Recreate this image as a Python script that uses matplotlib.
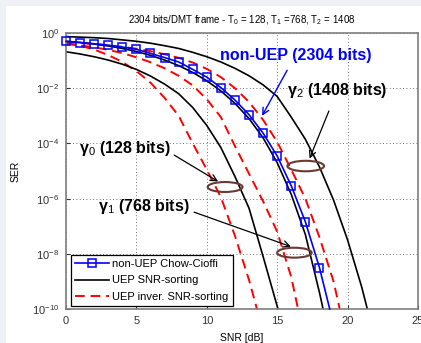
import numpy as np
import matplotlib
matplotlib.use('Agg')
import matplotlib.pyplot as plt
from matplotlib.patches import Ellipse, Rectangle

plt.rcParams['font.family'] = ['Liberation Sans', 'DejaVu Sans']
plt.rcParams['mathtext.fontset'] = 'custom'
plt.rcParams['mathtext.rm'] = 'Liberation Sans'
plt.rcParams['mathtext.it'] = 'Liberation Sans:italic'
plt.rcParams['mathtext.bf'] = 'Liberation Sans:bold'

# SNR [dB] and log10(SER)
snr_int = list(range(0, 19))

# non-UEP Chow-Cioffi (blue, squares)
snr_blue = snr_int + [18.73]
ser_blue = [-0.30, -0.35, -0.39, -0.44, -0.51, -0.59, -0.74, -0.89, -1.05, -1.32,
            -1.60, -1.98, -2.43, -2.96, -3.63, -4.46, -5.54, -6.84, -8.50, -10.0]

# UEP SNR-sorting (black): gamma0, gamma1, gamma2
snr_k0 = list(range(0, 16)) + [15.05]
ser_k0 = [-0.68, -0.76, -0.86, -0.98, -1.13, -1.32, -1.56, -1.85, -2.20, -2.70,
          -3.35, -4.15, -5.20, -6.35, -8.10, -9.90, -10.0]
snr_k1 = list(range(0, 19)) + [18.26]
ser_k1 = [-0.30, -0.34, -0.40, -0.47, -0.56, -0.67, -0.81, -0.98, -1.18, -1.43,
          -1.73, -2.10, -2.55, -3.10, -3.80, -4.70, -5.85, -7.30, -9.40, -10.0]
snr_k2 = list(range(0, 22)) + [21.4]
ser_k2 = [-0.13, -0.15, -0.17, -0.20, -0.25, -0.30, -0.37, -0.46, -0.56, -0.70,
          -0.86, -1.05, -1.28, -1.55, -1.88, -2.30, -3.05, -3.85, -4.85, -6.05,
          -7.50, -9.20, -10.0]

# UEP inver. SNR-sorting (red dashed)
snr_r0 = list(range(0, 14)) + [13.56]
ser_r0 = [-0.36, -0.46, -0.60, -0.80, -1.05, -1.38, -1.80, -2.35, -3.00, -4.00,
          -4.95, -5.95, -7.35, -8.95, -10.0]
snr_r1 = list(range(0, 17)) + [16.48]
ser_r1 = [-0.40, -0.45, -0.52, -0.61, -0.73, -0.88, -1.06, -1.28, -1.55, -1.90,
          -2.40, -3.05, -4.10, -5.10, -6.10, -7.20, -8.85, -10.0]
snr_r2 = list(range(0, 20)) + [19.44]
ser_r2 = [-0.33, -0.36, -0.40, -0.45, -0.50, -0.57, -0.66, -0.77, -0.90, -1.07,
          -1.30, -1.60, -2.00, -2.50, -3.15, -3.95, -4.95, -6.00, -7.40, -9.00, -10.0]

yticks = [1e0, 1e-2, 1e-4, 1e-6, 1e-8, 1e-10]
xticks = [0, 5, 10, 15, 20, 25]

fig = plt.figure(figsize=(4.21, 3.43), dpi=100, facecolor='#eff1f7')
fig.patches.append(Rectangle((6 / 421, 0), 1, 1 - 6 / 343, transform=fig.transFigure,
                             facecolor='white', edgecolor='none', zorder=-10))
ax = fig.add_axes([66 / 421, 34 / 343, 352 / 421, 276 / 343])

p = lambda v: 10.0 ** np.array(v)

red_kw = dict(color='#ff0000', lw=1.4, dashes=(5, 3))
ax.plot(snr_r0, p(ser_r0), **red_kw)
ax.plot(snr_r1, p(ser_r1), **red_kw)
ax.plot(snr_r2, p(ser_r2), **red_kw, label='UEP inver. SNR-sorting')

blk_kw = dict(color='black', lw=1.2)
ax.plot(snr_k0, p(ser_k0), **blk_kw)
ax.plot(snr_k1, p(ser_k1), **blk_kw)
ax.plot(snr_k2, p(ser_k2), **blk_kw, label='UEP SNR-sorting')

ax.plot(snr_blue, p(ser_blue), color='#0000ff', lw=1.2, marker='s', ms=6,
        mfc='none', mec='#0000ff', mew=1.1, markevery=list(range(19)),
        clip_on=False, label='non-UEP Chow-Cioffi', zorder=5)

ax.set_yscale('log')
ax.set_xlim(0, 25)
ax.set_ylim(1e-10, 1)
ax.set_yticks(yticks)
ax.set_xticks(xticks)
ax.minorticks_off()
ax.grid(True, color='#404040', linestyle=(0, (1, 3)), lw=0.6)
ax.tick_params(direction='in', length=3, labelsize=8, colors='#333333', pad=5)
for s in ax.spines.values():
    s.set_color('#7f7f7f')
    s.set_linewidth(1.2)

ax.set_title('2304 bits/DMT frame - T$_0$ = 128, T$_1$ =768, T$_2$ = 1408',
             fontsize=7, pad=7)
ax.set_xlabel('SNR [dB]', fontsize=7.5, labelpad=5)
ax.set_ylabel('SER', fontsize=7.5, labelpad=8)

h, l = ax.get_legend_handles_labels()
order = [2, 1, 0]
leg = ax.legend([h[i] for i in order], [l[i] for i in order], loc='lower left',
                bbox_to_anchor=(0.014, 0.011), borderaxespad=0, fontsize=8,
                handlelength=3.0, handletextpad=0.3, labelspacing=0.55,
                fancybox=False, framealpha=1, edgecolor='black')
leg.get_frame().set_linewidth(0.9)

# ellipses marking the groups
ell_kw = dict(transform=ax.transAxes, facecolor='none', edgecolor='#6a3a33', lw=1.5, zorder=6)
ax.add_patch(Ellipse((0.452, 0.442), 0.099, 0.036, **ell_kw))
ax.add_patch(Ellipse((0.649, 0.204), 0.098, 0.036, **ell_kw))
ax.add_patch(Ellipse((0.681, 0.518), 0.104, 0.038, **ell_kw))

bold = dict(fontsize=11.5, fontweight='bold', xycoords='axes fraction',
            textcoords='axes fraction', ha='center', va='center')
ax.annotate('non-UEP (2304 bits)', xy=(0.557, 0.70), xytext=(0.652, 0.92),
            color='#0000ff', arrowprops=dict(arrowstyle='->', color='#0000ff', lw=1.0,
                                             shrinkA=4, shrinkB=0), **bold)
ax.annotate('γ$_2$ (1408 bits)', xy=(0.692, 0.545), xytext=(0.770, 0.79),
            arrowprops=dict(arrowstyle='->', color='black', lw=0.9,
                            shrinkA=6, shrinkB=0), **bold)
ax.annotate('γ$_0$ (128 bits)', xy=(0.432, 0.462), xytext=(0.166, 0.58),
            arrowprops=dict(arrowstyle='->', color='black', lw=0.9,
                            relpos=(1.0, 0.3), shrinkA=1, shrinkB=0), **bold)
ax.annotate('γ$_1$ (768 bits)', xy=(0.639, 0.226), xytext=(0.222, 0.37),
            arrowprops=dict(arrowstyle='->', color='black', lw=0.9,
                            relpos=(1.0, 0.3), shrinkA=1, shrinkB=0), **bold)

fig.savefig('out.png', dpi=100, facecolor=fig.get_facecolor())
